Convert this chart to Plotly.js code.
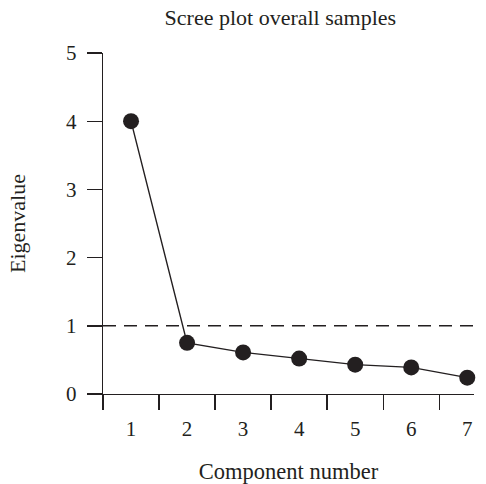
<!DOCTYPE html>
<html>
<head>
<meta charset="utf-8">
<script src="https://cdn.plot.ly/plotly-3.0.1.min.js"></script>
<style>html,body{margin:0;padding:0;background:#fff;}#chart{width:486px;height:484px;}</style>
</head>
<body>
<div id="chart"></div>
<script>
const components = [1, 2, 3, 4, 5, 6, 7];
const eigenvalues = [4.0, 0.75, 0.61, 0.52, 0.43, 0.39, 0.24];
const xTickLabels = ['1', '2', '3', '4', '5', '6', '7'];
const yTickValues = [0, 1, 2, 3, 4, 5];
const kaiserCriterion = 1;

const ink = '#231f20';
const font = 'Liberation Serif, Times New Roman, serif';

const trace = {
  x: components,
  y: eigenvalues,
  type: 'scatter',
  mode: 'lines+markers',
  line: {color: ink, width: 1.4},
  marker: {color: ink, size: 16},
  cliponaxis: false,
  hoverinfo: 'skip'
};

const layout = {
  width: 486,
  height: 484,
  margin: {l: 102.5, r: 11.5, t: 52.5, b: 89.7},
  paper_bgcolor: '#fff',
  plot_bgcolor: '#fff',
  showlegend: false,
  font: {family: font, color: ink, size: 21},
  title: {
    text: 'Scree plot overall samples',
    font: {family: font, size: 22, color: ink},
    xref: 'paper', x: 0.478, xanchor: 'center',
    yref: 'container', y: 1 - 17 / 484, yanchor: 'middle'
  },
  xaxis: {
    range: [0.5, 7.12],
    tickvals: components,
    ticktext: xTickLabels,
    ticks: 'outside', ticklen: 15, tickcolor: 'rgba(0,0,0,0)',
    minor: {ticks: 'outside', tick0: 0.5, dtick: 1, ticklen: 15, tickwidth: 1.4, tickcolor: ink, showgrid: false},
    showline: true, linecolor: ink, linewidth: 1.4,
    showgrid: false, zeroline: false,
    tickfont: {size: 21},
    title: {text: 'Component number', font: {size: 22.5}, standoff: 24}
  },
  yaxis: {
    range: [0, 5],
    tickvals: yTickValues,
    ticks: 'outside', ticklen: 15, tickwidth: 1.4, tickcolor: ink,
    showline: true, linecolor: ink, linewidth: 1.4,
    showgrid: false, zeroline: false,
    ticklabelstandoff: 6,
    tickfont: {size: 21},
    title: {text: 'Eigenvalue', font: {size: 22}, standoff: 34}
  },
  shapes: [{
    type: 'line', xref: 'paper', x0: 0, x1: 1,
    yref: 'y', y0: kaiserCriterion, y1: kaiserCriterion,
    line: {color: ink, width: 1.4, dash: '13px,8px'},
    layer: 'below'
  }]
};

Plotly.newPlot('chart', [trace], layout, {displayModeBar: false, staticPlot: true});
</script>
</body>
</html>
